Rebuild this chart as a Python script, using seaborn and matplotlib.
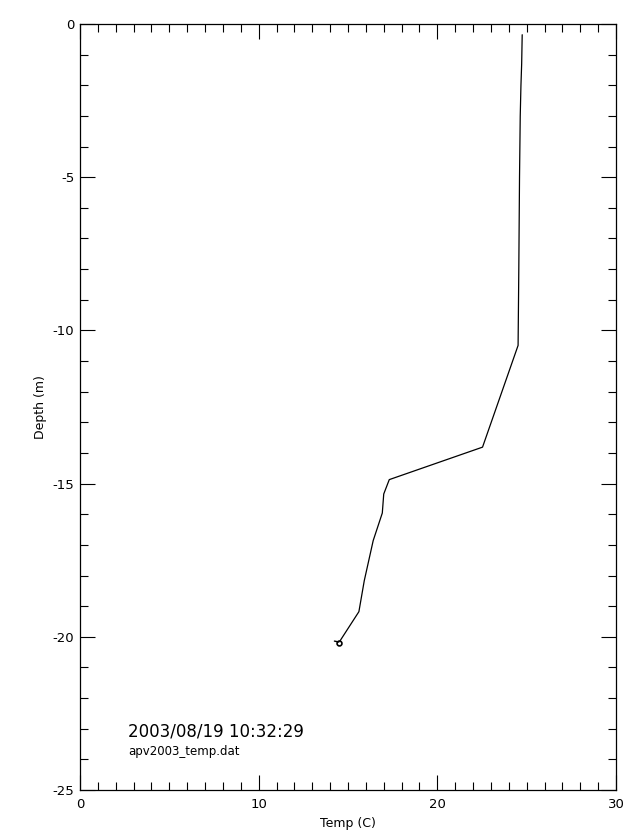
import matplotlib
matplotlib.use("Agg")
import matplotlib.pyplot as plt
import seaborn as sns
import pandas as pd
from matplotlib.ticker import MultipleLocator

temp = [24.75, 24.72, 24.68, 24.64, 24.60, 24.56, 24.52, 22.53, 17.31, 17.00, 16.92, 16.41, 15.91, 15.61, 14.49]
depth = [-0.35, -1.3, -2.0, -3.0, -5.0, -8.0, -10.49, -13.81, -14.87, -15.34, -15.96, -16.86, -18.17, -19.18, -20.19]
x_ticks = [0, 10, 20, 30]
y_ticks = [0, -5, -10, -15, -20, -25]
title_time = "2003/08/19 10:32:29"
file_name = "apv2003_temp.dat"

df = pd.DataFrame({"Temp": temp, "Depth": depth})

sns.set_style("white")
plt.rcParams["font.family"] = ["DejaVu Sans"]
plt.rcParams["axes.unicode_minus"] = False
plt.rcParams["text.color"] = "black"
plt.rcParams["axes.labelcolor"] = "black"

fig = plt.figure(figsize=(6.4, 8.4), dpi=100)
ax = fig.add_axes([80/640, 1-790/840, (616-80)/640, (790-24)/840])

sns.lineplot(data=df, x="Temp", y="Depth", sort=False, estimator=None,
             color="black", linewidth=0.9, ax=ax)
ax.plot([temp[-1]], [depth[-1]], marker="o", markersize=3.5, color="black",
        markerfacecolor="white", markeredgewidth=1.2)
ax.plot([temp[-1] - 0.25, temp[-1]], [depth[-1] + 0.05, depth[-1] + 0.02],
        color="black", linewidth=1.0)

ax.set_xlim(0, 30)
ax.set_ylim(-25, 0)
ax.set_xticks(x_ticks)
ax.set_yticks(y_ticks)
ax.xaxis.set_minor_locator(MultipleLocator(1))
ax.yaxis.set_minor_locator(MultipleLocator(1))
ax.tick_params(which="both", direction="in", top=True, right=True,
               bottom=True, left=True,
               width=0.8, color="black", labelsize=9.5, labelcolor="black")
ax.tick_params(which="major", length=11)
ax.tick_params(axis="x", which="major", pad=6)
ax.tick_params(axis="y", which="major", pad=4)
ax.tick_params(which="minor", length=6)
for s in ax.spines.values():
    s.set_visible(True)
    s.set_color("black")
    s.set_linewidth(0.9)

ax.set_xlabel("Temp (C)", fontsize=9, labelpad=4, color="black")
ax.set_ylabel("Depth (m)", fontsize=9, labelpad=4, color="black")

ax.text(2.7, -23.25, title_time, fontsize=12, ha="left", va="baseline", color="black")
ax.text(2.7, -23.85, file_name, fontsize=8.5, ha="left", va="baseline", color="black")

fig.savefig("out.png", dpi=100, facecolor="white")
